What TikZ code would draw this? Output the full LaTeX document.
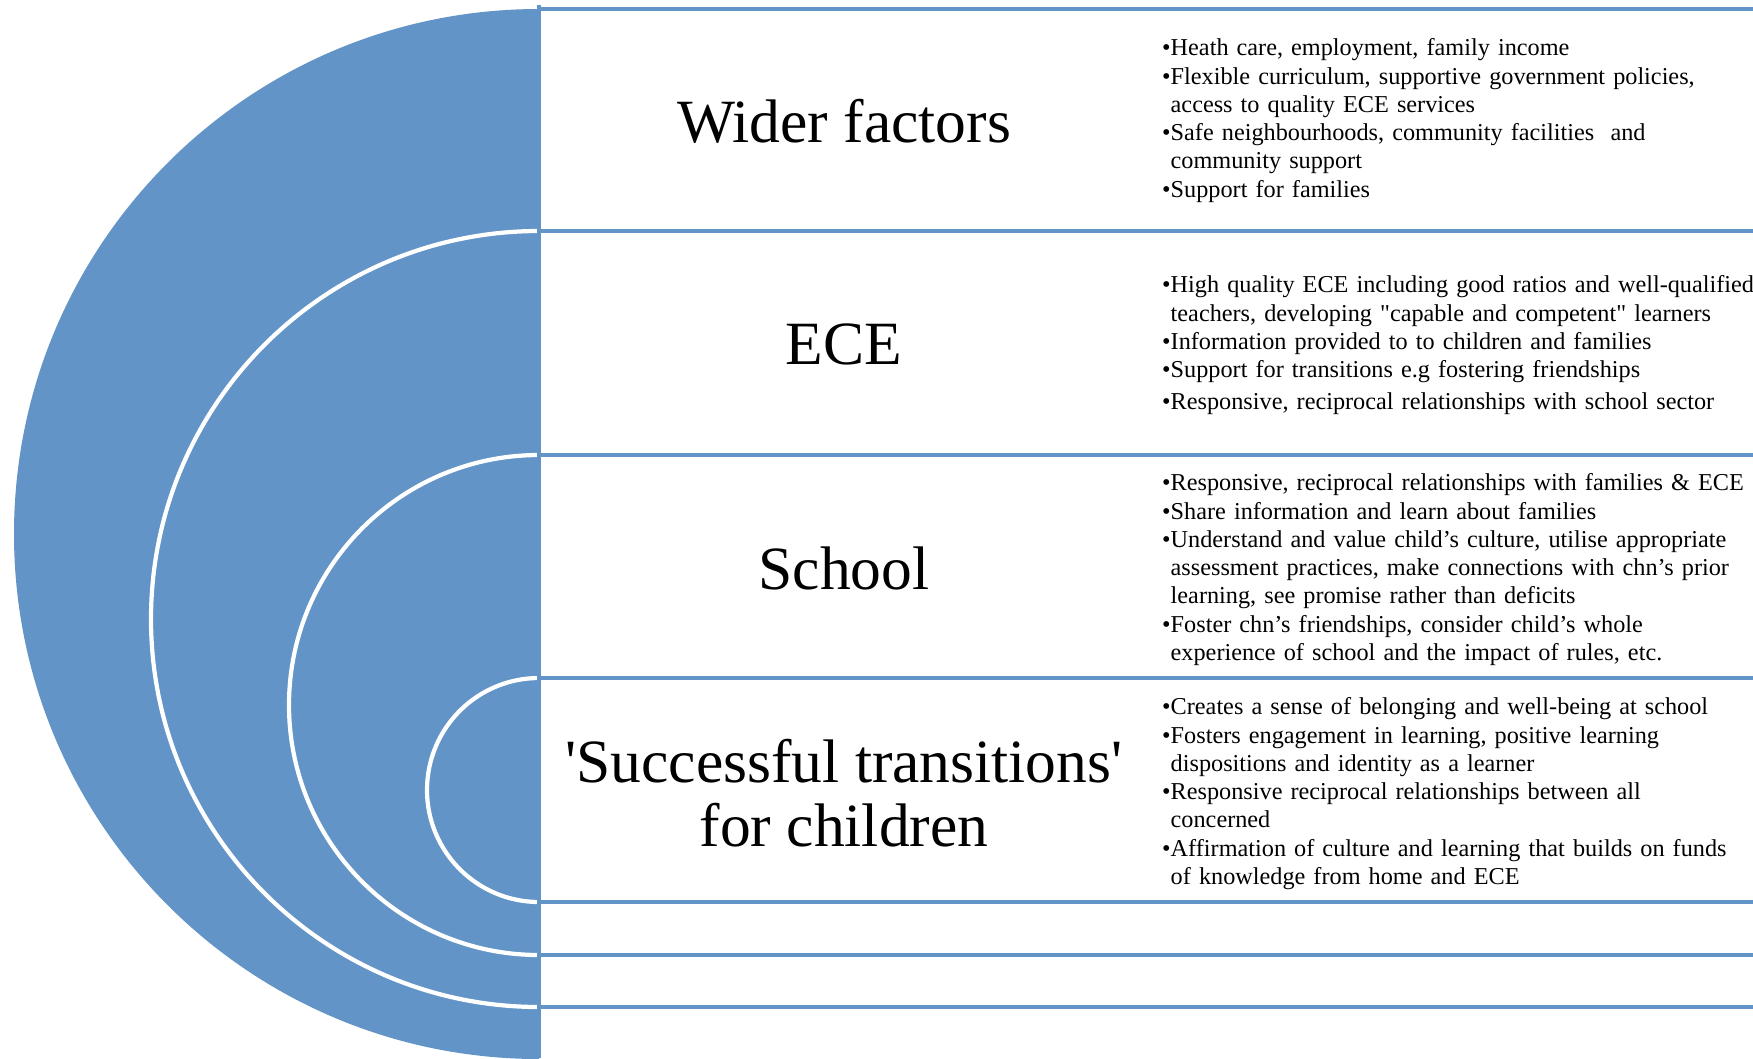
\documentclass[tikz,border=0pt]{standalone}
\usepackage{fontspec}
\setmainfont{Liberation Serif}
\usepackage{xcolor}
\usetikzlibrary{positioning}

\definecolor{ringblue}{RGB}{98,148,199}
\newcommand{\bul}{\leavevmode\llap{\textbullet}}

\begin{document}
\begin{tikzpicture}[
    heading/.style={font=\fontsize{17.5}{18}\selectfont, align=center},
    points/.style={anchor=north west, inner sep=0pt, text width=6.2cm, align=left, font=\fontsize{6.9}{8.05}\selectfont},
    rule/.style={ringblue, line width=1.2pt},
    gap/.style={white, line width=1.2pt}
]
    \useasboundingbox (0,0) rectangle (17.53,10.58);

    % Rings
    \fill[ringblue] (5.39,10.49) arc (90:270:5.25) -- cycle;
    \draw[gap] (5.39,8.27) arc (90:270:3.88);
    \draw[gap] (5.39,6.03) arc (90:270:2.50);
    \draw[gap] (5.39,3.80) arc (90:270:1.12);

    % Rows
    \foreach \y in {10.49,8.27,6.03,3.80,1.56,1.03,0.51}
        \draw[rule] (5.39,\y) -- (17.53,\y);
    \draw[rule] (5.39,0) -- (5.39,10.53);

    % Headings
    \node[heading] (wider) at (8.44,9.37) {Wider factors};
    \node[heading] (ece) at (8.44,7.14) {ECE};
    \node[heading] (school) at (8.44,4.90) {School};
    \node[heading] (success) at (8.44,2.65) {\textquotesingle Successful transitions\textquotesingle\\for children};

    % Points
    \node[points] (widerlist) at (11.70,10.20) {\bul Heath care, employment, family income\\
        \bul Flexible curriculum, supportive government policies,\\ access to quality ECE services\\
        \bul Safe neighbourhoods, community facilities\ \ and\\ community support\\
        \bul Support for families};
    \node[points] (ecelist) at (11.70,7.83) {\bul High quality ECE including good ratios and well-qualified\\ teachers, developing \textquotedbl capable and competent\textquotedbl\ learners\\
        \bul Information provided to to children and families\\
        \bul Support for transitions e.g fostering friendships\\[1pt]
        \bul Responsive, reciprocal relationships with school sector};
    \node[points] (schoollist) at (11.70,5.85) {\bul Responsive, reciprocal relationships with families \& ECE\\
        \bul Share information and learn about families\\
        \bul Understand and value child's culture, utilise appropriate\\ assessment practices, make connections with chn's prior\\ learning, see promise rather than deficits\\
        \bul Foster chn's friendships, consider child's whole\\ experience of school and the impact of rules, etc.};
    \node[points] (successlist) at (11.70,3.61) {\bul Creates a sense of belonging and well-being at school\\
        \bul Fosters engagement in learning, positive learning\\ dispositions and identity as a learner\\
        \bul Responsive reciprocal relationships between all\\ concerned\\
        \bul Affirmation of culture and learning that builds on funds\\ of knowledge from home and ECE};
\end{tikzpicture}
\end{document}
